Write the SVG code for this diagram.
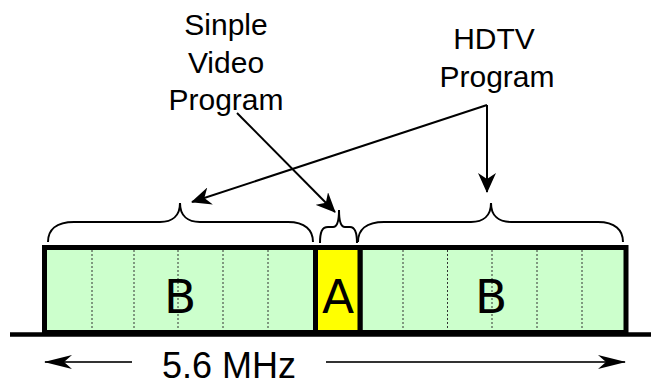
<svg xmlns="http://www.w3.org/2000/svg" width="651" height="379" viewBox="0 0 651 379">
<style>
.band{fill:#ccffcc;stroke:#000;stroke-width:5}
.bandA{fill:#ffff00;stroke:#000;stroke-width:5}
.dot{stroke:#333;stroke-width:1;stroke-dasharray:2,2}
.brace{fill:none;stroke:#000;stroke-width:2}
.big{font-family:"DejaVu Sans",sans-serif;font-size:47px;fill:#000;text-anchor:middle}
.lbl{font-family:"Liberation Sans",Arial,sans-serif;font-size:30px;fill:#000;text-anchor:middle}
.conn{fill:none;stroke:#000;stroke-width:2}
.dim{fill:none;stroke:#333;stroke-width:2}
</style>
<defs>
<marker id="ah" markerUnits="userSpaceOnUse" viewBox="-20 -9 20 18" markerWidth="20" markerHeight="18" refX="-1" refY="0" orient="auto">
<path d="M0,0 L-20,-9 L-14,0 L-20,9 Z" fill="#000"/>
</marker>
<marker id="ah2" markerUnits="userSpaceOnUse" viewBox="-28 -7 28 14" markerWidth="28" markerHeight="14" refX="-1" refY="0" orient="auto">
<path d="M0,0 L-28,-7 L-20,0 L-28,7 Z" fill="#000"/>
</marker>
</defs>

<line x1="10" y1="334.5" x2="651" y2="334.5" stroke="#000" stroke-width="4.5"/>

<g id="band-B-left">
<rect class="band" x="44.5" y="247.5" width="271" height="85"/>
<line class="dot" x1="92" y1="250" x2="92" y2="330"/>
<line class="dot" x1="134" y1="250" x2="134" y2="330"/>
<line class="dot" x1="178" y1="250" x2="178" y2="330"/>
<line class="dot" x1="223" y1="250" x2="223" y2="330"/>
<line class="dot" x1="268" y1="250" x2="268" y2="330"/>
<text class="big" x="180" y="313">B</text>
</g>

<g id="band-B-right">
<rect class="band" x="360" y="247.5" width="266" height="85"/>
<line class="dot" x1="403" y1="250" x2="403" y2="330"/>
<line class="dot" x1="447.5" y1="250" x2="447.5" y2="330"/>
<line class="dot" x1="492" y1="250" x2="492" y2="330"/>
<line class="dot" x1="537" y1="250" x2="537" y2="330"/>
<line class="dot" x1="582" y1="250" x2="582" y2="330"/>
<text class="big" x="491" y="313">B</text>
</g>

<g id="band-A">
<rect class="bandA" x="315.5" y="247.5" width="44.5" height="85"/>
<text class="big" x="338" y="313">A</text>
</g>

<g id="brace-left">
<path class="brace" d="M48,242 C48,230 56,222 74,222 L160,222 C172,222 180,216 180,203 C180,216 188,222 200,222 L288,222 C305,222 313,230 313,242"/>
</g>
<g id="brace-A">
<path class="brace" d="M320,243 C320,232 322,227 328,227 L333,227 C337,227 339,222 339,210 C339,222 341,227 345,227 L350,227 C355,227 357,232 357,243"/>
</g>
<g id="brace-right">
<path class="brace" d="M358,242 C358,230 366,222 384,222 L471,222 C483,222 491,216 491,203 C491,216 499,222 511,222 L598,222 C615,222 623,230 623,242"/>
</g>

<g id="label-simple">
<text class="lbl" x="226" y="35">Sinple</text>
<text class="lbl" x="226" y="72.5">Video</text>
<text class="lbl" x="226" y="110">Program</text>
</g>
<g id="label-hdtv">
<text class="lbl" x="494" y="48.5">HDTV</text>
<text class="lbl" x="497" y="86.5">Program</text>
</g>

<g id="label-bw">
<text x="229" y="377.5" font-family="Liberation Sans, Arial, sans-serif" font-size="36" text-anchor="middle" fill="#000">5.6 MHz</text>
</g>

<g id="connectors">
<line class="conn" x1="237" y1="113" x2="335" y2="212" marker-end="url(#ah)"/>
<polyline class="conn" points="487,105 487,192" marker-end="url(#ah)"/>
<line class="conn" x1="487" y1="105" x2="192" y2="202" marker-end="url(#ah)"/>
<line class="dim" x1="132" y1="362" x2="45" y2="362" marker-end="url(#ah2)"/>
<line class="dim" x1="326" y1="362" x2="625" y2="362" marker-end="url(#ah2)"/>
</g>
</svg>
